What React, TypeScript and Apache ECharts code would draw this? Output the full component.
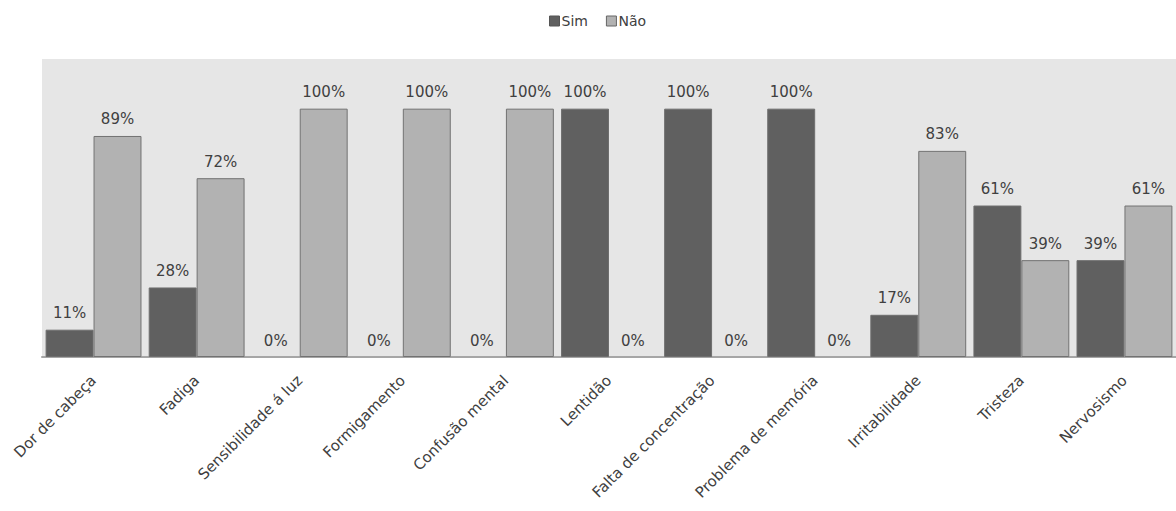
import React, { useEffect, useRef } from "react";
import * as echarts from "echarts";

const categories = [
  "Dor de cabeça",
  "Fadiga",
  "Sensibilidade á luz",
  "Formigamento",
  "Confusão mental",
  "Lentidão",
  "Falta de concentração",
  "Problema de memória",
  "Irritabilidade",
  "Tristeza",
  "Nervosismo",
];
const simValues = [11, 28, 0, 0, 0, 100, 100, 100, 17, 61, 39];
const naoValues = [89, 72, 100, 100, 100, 0, 0, 0, 83, 39, 61];

const FONT = "DejaVu Sans";

const toItems = (vals: number[]) =>
  vals.map((v) => (v === 0 ? { value: v, itemStyle: { borderWidth: 0 } } : { value: v }));

export default function App() {
  const ref = useRef<HTMLDivElement>(null);
  useEffect(() => {
    if (!ref.current) return;
    const chart = echarts.init(ref.current, undefined, { renderer: "svg" });
    const label = {
      show: true,
      position: "top",
      distance: 9,
      formatter: "{c}%",
      color: "#404040",
      fontFamily: FONT,
      fontSize: 15,
    };
    chart.setOption({
      animation: false,
      legend: {
        top: 9,
        left: 544,
        itemWidth: 10,
        itemHeight: 10,
        itemGap: 18,
        icon: "rect",
        textStyle: { color: "#404040", fontFamily: FONT, fontSize: 14, padding: [0, 0, 0, -3] },
        data: [
          { name: "Sim", itemStyle: { borderColor: "#555", borderWidth: 1 } },
          { name: "Não", itemStyle: { borderColor: "#666", borderWidth: 1 } },
        ],
      },
      grid: {
        left: 42,
        right: 0,
        top: 59,
        bottom: 154,
        show: true,
        backgroundColor: "#e6e6e6",
        borderWidth: 0,
      },
      xAxis: {
        type: "category",
        data: categories,
        axisLine: { lineStyle: { color: "#a6a6a6", width: 2 } },
        axisTick: { show: false },
        axisLabel: {
          rotate: 45,
          interval: 0,
          margin: 21,
          color: "#404040",
          fontFamily: FONT,
          fontSize: 15,
        },
      },
      yAxis: {
        type: "value",
        min: 0,
        max: 120,
        show: false,
        splitLine: { show: false },
      },
      series: [
        {
          name: "Sim",
          type: "bar",
          data: toItems(simValues),
          barGap: "0%",
          barCategoryGap: "7%",
          itemStyle: { color: "#606060", borderColor: "#6e6e6e", borderWidth: 1 },
          label,
        },
        {
          name: "Não",
          type: "bar",
          data: toItems(naoValues),
          barGap: "0%",
          barCategoryGap: "7%",
          itemStyle: { color: "#b2b2b2", borderColor: "#727272", borderWidth: 1 },
          label,
        },
      ],
    });
    return () => chart.dispose();
  }, []);
  return (
    <div
      ref={ref}
      style={{ position: "fixed", left: 0, top: 0, width: 1176, height: 511, background: "#fff" }}
    />
  );
}
